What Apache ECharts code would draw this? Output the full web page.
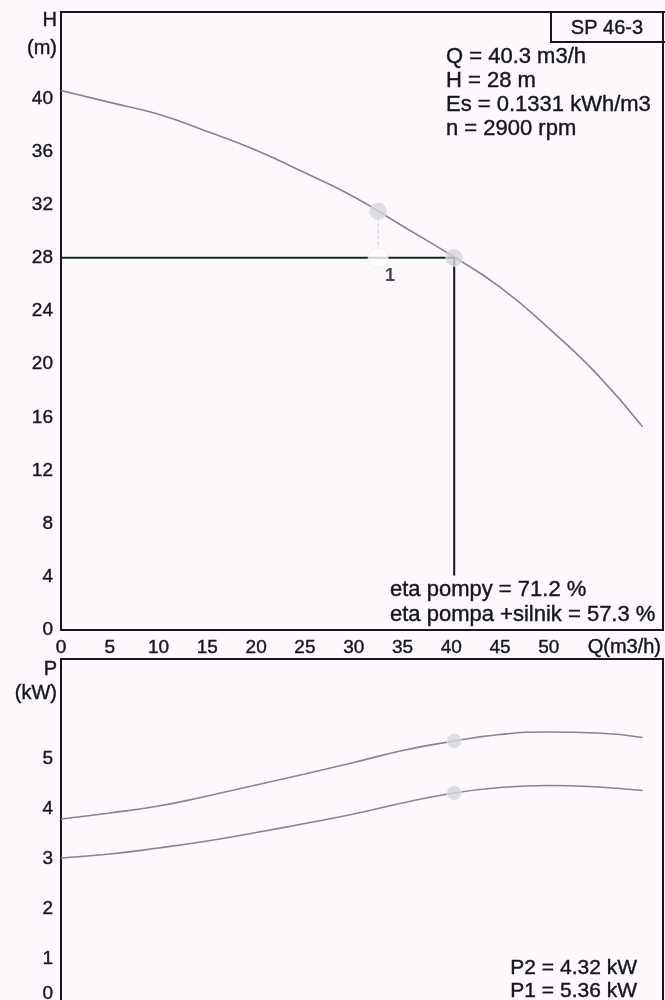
<!DOCTYPE html>
<html><head><meta charset="utf-8">
<script src="https://cdn.jsdelivr.net/npm/echarts@6/dist/echarts.min.js"></script>
<style>html,body{margin:0;padding:0;background:#fcf8fc;}#c{width:665px;height:1000px;}</style>
</head><body><div id="c"></div>
<script>
// Flow rate Q (m3/h)
const flowQ = [0, 5, 10, 15, 20, 25, 30, 35, 40, 45, 50, 55, 59.6];
// Head H (m)
const headH = [40.6, 39.7, 38.8, 37.5, 36.1, 34.4, 32.6, 30.4, 28.2, 25.8, 22.7, 19.2, 15.3];
// Power P1 (kW) and P2 (kW)
const powerP1 = [3.8, 3.92, 4.06, 4.26, 4.48, 4.7, 4.93, 5.17, 5.35, 5.49, 5.54, 5.52, 5.43];
const powerP2 = [3.02, 3.1, 3.22, 3.36, 3.53, 3.71, 3.9, 4.12, 4.31, 4.43, 4.47, 4.44, 4.37];
// Duty point
const dutyQ = 40.3, dutyH = 28, dutyP1 = 5.36, dutyP2 = 4.32;
// Point 1
const pt1Q = 32.5, pt1Hcurve = 31.5, pt1Hsys = 28;
const infoLines = ['Q = 40.3 m3/h', 'H = 28 m', 'Es = 0.1331 kWh/m3', 'n = 2900 rpm'];
const etaLines = ['eta pompy = 71.2 %', 'eta pompa +silnik = 57.3 %'];
const powerLines = ['P2 = 4.32 kW', 'P1 = 5.36 kW'];
const pumpName = 'SP 46-3';

const FONT = '"Liberation Sans", Arial, sans-serif';
const INK = '#151520';
const CURVE = '#85848f';
const zip = (a, b) => a.map((v, i) => [v, b[i]]);
const thick = {textBorderColor: INK, textBorderWidth: 0.4};

const chart = echarts.init(document.getElementById('c'), null, {renderer: 'canvas'});
const tickStyle = Object.assign({color: INK, fontSize: 19, fontFamily: FONT}, thick);
const txt = (t, x, y, size, align) => ({type: 'text', x: x, y: y,
  style: {text: t, font: size + 'px ' + FONT, fill: INK, align: align, verticalAlign: 'middle', stroke: INK, lineWidth: 0.4}});
chart.setOption({
  backgroundColor: '#fcf8fc',
  animation: false,
  grid: [
    {left: 61, right: 2, top: 12, height: 618, outerBoundsMode: 'none', containLabel: false, show: true, borderColor: INK, borderWidth: 2, backgroundColor: 'transparent'},
    {left: 61, right: 2, top: 659, height: 350, outerBoundsMode: 'none', containLabel: false, show: true, borderColor: INK, borderWidth: 2, backgroundColor: 'transparent'}
  ],
  xAxis: [
    {gridIndex: 0, type: 'value', min: 0, max: 61.7, interval: 5, splitLine: {show: false},
     axisLine: {lineStyle: {color: INK, width: 2}}, axisTick: {show: false},
     axisLabel: Object.assign({}, tickStyle, {margin: 8, formatter: v => v > 50 ? '' : String(v)}),
     name: 'Q(m3/h)', nameLocation: 'end', nameGap: -2,
     nameTextStyle: Object.assign({color: INK, fontSize: 20, fontFamily: FONT, align: 'right', verticalAlign: 'top', padding: [7, 0, 0, 0]}, thick)},
    {gridIndex: 1, type: 'value', min: 0, max: 61.7, interval: 5, splitLine: {show: false},
     axisLine: {show: false}, axisTick: {show: false}, axisLabel: {show: false}}
  ],
  yAxis: [
    {gridIndex: 0, type: 'value', min: 0, max: 46.5, interval: 4, splitLine: {show: false},
     axisLine: {show: true, lineStyle: {color: INK, width: 2}}, axisTick: {show: false},
     axisLabel: Object.assign({}, tickStyle, {margin: 8, formatter: v => v > 40 ? '' : String(v)})},
    {gridIndex: 1, type: 'value', min: 0, max: 7, interval: 1, splitLine: {show: false},
     axisLine: {show: true, lineStyle: {color: INK, width: 2}}, axisTick: {show: false},
     axisLabel: Object.assign({}, tickStyle, {margin: 8,
       formatter: v => v > 5 ? '' : (v === 0 ? '{z|0}' : String(v)),
       rich: {z: Object.assign({color: INK, fontSize: 19, fontFamily: FONT, padding: [0, 0, 30, 0]}, thick)}})}
  ],
  series: [
    {type: 'line', xAxisIndex: 0, yAxisIndex: 0, data: zip(flowQ, headH), smooth: true, symbol: 'none',
     lineStyle: {color: CURVE, width: 1.6}, z: 2},
    {type: 'line', xAxisIndex: 0, yAxisIndex: 0, data: [[0, dutyH], [dutyQ, dutyH]], symbol: 'none',
     lineStyle: {color: '#18281a', width: 2}, z: 3},
    {type: 'line', xAxisIndex: 0, yAxisIndex: 0, data: [[dutyQ, dutyH], [dutyQ, 4.1]], symbol: 'none',
     lineStyle: {color: INK, width: 2}, z: 3},
    {type: 'line', xAxisIndex: 0, yAxisIndex: 0, data: [[pt1Q, pt1Hcurve], [pt1Q, pt1Hsys]], symbol: 'none',
     lineStyle: {color: '#c8c8d0', width: 1, type: 'dashed'}, z: 3},
    {type: 'scatter', xAxisIndex: 0, yAxisIndex: 0, data: [[pt1Q, pt1Hsys]], symbolSize: 20,
     itemStyle: {color: '#ffffff', borderColor: '#ebe9ee', borderWidth: 1}, z: 5,
     label: Object.assign({show: true, formatter: '1', position: 'bottom', offset: [12, -6], color: INK, fontSize: 18, fontWeight: 'bold', fontFamily: FONT})},
    {type: 'scatter', xAxisIndex: 0, yAxisIndex: 0, data: [[pt1Q, pt1Hcurve], [dutyQ, dutyH]], symbolSize: 17,
     itemStyle: {color: '#d6d5dc', borderColor: '#e4e3e8', borderWidth: 1}, z: 6},
    {type: 'line', xAxisIndex: 1, yAxisIndex: 1, data: zip(flowQ, powerP1), smooth: true, symbol: 'none',
     lineStyle: {color: CURVE, width: 1.6}, z: 2},
    {type: 'line', xAxisIndex: 1, yAxisIndex: 1, data: zip(flowQ, powerP2), smooth: true, symbol: 'none',
     lineStyle: {color: CURVE, width: 1.6}, z: 2},
    {type: 'scatter', xAxisIndex: 1, yAxisIndex: 1, data: [[dutyQ, dutyP1], [dutyQ, dutyP2]], symbolSize: 14,
     itemStyle: {color: '#d6d5dc', borderColor: '#e4e3e8', borderWidth: 1}, z: 6}
  ],
  graphic: [
    txt('H', 57, 20, 20, 'right'),
    txt('(m)', 57, 48, 20, 'right'),
    txt('P', 57, 669, 20, 'right'),
    txt('(kW)', 57, 693, 20, 'right'),
    {type: 'rect', shape: {x: 551, y: 12, width: 120, height: 30}, style: {fill: 'transparent', stroke: INK, lineWidth: 2}},
    txt(pumpName, 607, 28, 20, 'center'),
    ...infoLines.map((t, i) => txt(t, 446, 57 + i * 24, 22, 'left')),
    ...etaLines.map((t, i) => txt(t, 390, 590 + i * 25, 22, 'left')),
    ...powerLines.map((t, i) => txt(t, 637, 968 + i * 23, 21, 'right'))
  ]
});
</script></body></html>
